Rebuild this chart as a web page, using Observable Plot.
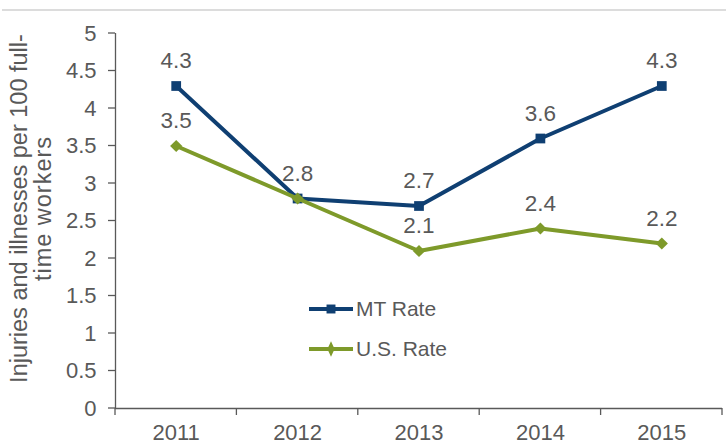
<!DOCTYPE html>
<html>
<head>
<meta charset="utf-8">
<script src="https://cdn.jsdelivr.net/npm/d3@7"></script>
<script src="https://cdn.jsdelivr.net/npm/@observablehq/plot@0.6"></script>
<style>
  html, body { margin: 0; padding: 0; background: #fff; }
  #chart svg { display: block; }
</style>
</head>
<body>
<div id="chart"></div>
<script>
const years = [2011, 2012, 2013, 2014, 2015];
const mtRate = [4.3, 2.8, 2.7, 3.6, 4.3];
const usRate = [3.5, 2.8, 2.1, 2.4, 2.2];
const seriesNames = ["MT Rate", "U.S. Rate"];
const yTicks = [0, 0.5, 1, 1.5, 2, 2.5, 3, 3.5, 4, 4.5, 5];
const yTitle = ["Injuries and illnesses per 100 full-", "time workers"];

const navy = "#0f3f72";
const green = "#7e9a2a";
const gray = "#595959";

const mt = years.map((y, i) => ({year: y, value: mtRate[i], series: seriesNames[0]}));
const us = years.map((y, i) => ({year: y, value: usRate[i], series: seriesNames[1]}));
// where both series share a value, only one label is shown
const usLabels = us.filter((d, i) => d.value !== mtRate[i]);
const boundaries = [years[0] - 0.5, ...years.map(y => y + 0.5)];

const fmt = v => String(v);
const font = "'Liberation Sans', Arial, sans-serif";

const plot = Plot.plot({
  width: 726,
  height: 444,
  marginLeft: 115,
  marginRight: 4,
  marginTop: 33,
  marginBottom: 36,
  style: {fontFamily: font, fontSize: "18px", color: gray, background: "#fff"},
  x: {type: "linear", domain: [years[0] - 0.5, years[years.length - 1] + 0.5], axis: null},
  y: {type: "linear", domain: [0, 5], axis: null},
  marks: [
    // y axis line and labels
    Plot.ruleX([boundaries[0]], {y1: 0, y2: 5, stroke: "#595959", strokeWidth: 1.3}),
    Plot.text(yTicks, {x: boundaries[0], y: d => d, text: d => fmt(d), textAnchor: "end", dx: -19, fill: gray, fontSize: 22}),
    // x axis line, labels
    Plot.ruleY([0], {stroke: "#595959", strokeWidth: 1.3}),
    Plot.text(years, {x: d => d, y: 0, text: d => String(d), dy: 24.5, fill: gray, fontSize: 22}),
    // lines
    Plot.line(mt, {x: "year", y: "value", stroke: navy, strokeWidth: 4}),
    Plot.dot(mt, {x: "year", y: "value", symbol: "square", r: 5.5, fill: navy, stroke: "none"}),
    Plot.line(us, {x: "year", y: "value", stroke: green, strokeWidth: 4}),
    Plot.dot(us, {x: "year", y: "value", symbol: "diamond2", r: 5.5, fill: green, stroke: "none"}),
    // data labels
    Plot.text(mt, {x: "year", y: "value", text: d => fmt(d.value), dy: -25, fill: gray, fontSize: 22.5}),
    Plot.text(usLabels, {x: "year", y: "value", text: d => fmt(d.value), dy: -25, fill: gray, fontSize: 22.5}),
  ]
});

const svg = d3.select(plot);
document.getElementById("chart").appendChild(plot);

const xScale = plot.scale("x");
const yScale = plot.scale("y");
const x0 = xScale.apply(boundaries[0]);
const y0 = yScale.apply(0);

const tg = svg.append("g").attr("stroke", "#595959").attr("stroke-width", 1.3);
// x boundary ticks (downward)
boundaries.forEach(b => {
  const px = xScale.apply(b);
  tg.append("line").attr("x1", px).attr("x2", px).attr("y1", y0).attr("y2", y0 + 7);
});
// y ticks (leftward)
yTicks.forEach(t => {
  const py = yScale.apply(t);
  tg.append("line").attr("x1", x0 - 7).attr("x2", x0).attr("y1", py).attr("y2", py);
});

// top gray rule
svg.append("line").attr("x1", 2).attr("x2", 726).attr("y1", 10).attr("y2", 10)
  .attr("stroke", "#dcdcdc").attr("stroke-width", 2);

// y-axis title
const cy = (yScale.apply(0) + yScale.apply(5)) / 2 - 12;
yTitle.forEach((t, i) => {
  svg.append("text")
    .attr("transform", `translate(${21 + i * 24},${cy}) rotate(-90)`)
    .attr("text-anchor", "middle").attr("dominant-baseline", "middle")
    .attr("fill", gray).attr("font-size", 23.5).attr("font-family", font)
    .attr("letter-spacing", i === 1 ? 1 : 0)
    .text(t);
});

// legend
const legendColors = [navy, green];
const legendSymbols = [d3.symbolSquare, d3.symbolDiamond];
seriesNames.forEach((name, i) => {
  const ly = 309 + i * 40;
  const g = svg.append("g");
  g.append("line").attr("x1", 309).attr("x2", 353).attr("y1", ly).attr("y2", ly)
    .attr("stroke", legendColors[i]).attr("stroke-width", 4);
  g.append("path").attr("d", d3.symbol(legendSymbols[i], i === 0 ? 80 : 70)())
    .attr("transform", `translate(331,${ly})${i === 1 ? " scale(0.8,1)" : ""}`)
    .attr("fill", legendColors[i]);
  g.append("text").attr("x", 356).attr("y", ly).attr("dy", "0.35em")
    .attr("text-anchor", "start")
    .attr("fill", gray).attr("font-size", 21).attr("font-family", font).text(name);
});
</script>
</body>
</html>
